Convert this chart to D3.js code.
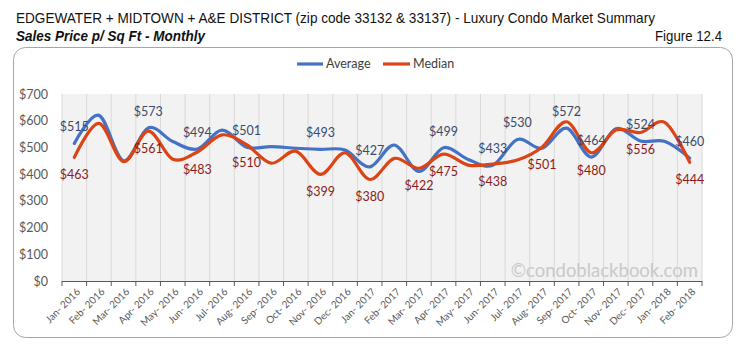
<!DOCTYPE html>
<html><head><meta charset="utf-8">
<script src="https://cdn.jsdelivr.net/npm/d3@7"></script>
<style>
body{margin:0;background:#fff;}
svg{display:block;}
</style></head>
<body>
<svg id="chart" width="740" height="345"></svg>
<script>
const months = ["Jan- 2016","Feb- 2016","Mar- 2016","Apr- 2016","May- 2016","Jun- 2016","Jul- 2016","Aug- 2016","Sep- 2016","Oct- 2016","Nov- 2016","Dec- 2016","Jan- 2017","Feb- 2017","Mar- 2017","Apr- 2017","May- 2017","Jun- 2017","Jul- 2017","Aug- 2017","Sep- 2017","Oct- 2017","Nov- 2017","Dec- 2017","Jan- 2018","Feb- 2018"];
const average = [515,620,450,573,522,494,565,501,503,497,493,490,427,509,410,499,455,433,530,497,572,464,570,524,522,460];
const median  = [463,590,447,561,456,483,547,510,441,486,399,480,380,459,422,475,434,438,453,501,596,480,565,556,593,444];
const avgLabelIdx = [0,3,5,7,10,12,15,17,18,20,21,23,25];
const medLabelIdx = [0,3,5,7,10,12,14,15,17,19,21,23,25];
const yTicks = [0,100,200,300,400,500,600,700];
const colors = {Average:"#4472c4", Median:"#dc4415"};
const labelColors = {Average:"#3b4a6b", Median:"#8b1c1c"};

const svg = d3.select("#chart");
const font = "Lato, 'Open Sans', sans-serif";
const tfont = "'Liberation Sans', Arial, sans-serif";

// Frame
svg.append("rect").attr("x",13.5).attr("y",47.5).attr("width",719).attr("height",290)
  .attr("rx",12).attr("fill","#fff").attr("stroke","#a6a6a6").attr("stroke-width",1);

// Titles
svg.append("text").attr("x",16).attr("y",23).text("EDGEWATER + MIDTOWN + A&E DISTRICT (zip code 33132 & 33137) - Luxury Condo Market Summary")
  .attr("font-family",tfont).attr("font-size",15).attr("fill","#111")
  .attr("textLength",639).attr("lengthAdjust","spacingAndGlyphs");
svg.append("text").attr("x",16).attr("y",41).text("Sales Price  p/ Sq Ft - Monthly")
  .attr("font-family",tfont).attr("font-size",14).attr("font-style","italic").attr("font-weight","bold").attr("fill","#111")
  .attr("textLength",189).attr("lengthAdjust","spacingAndGlyphs");
svg.append("text").attr("x",655).attr("y",41).text("Figure 12.4")
  .attr("font-family",tfont).attr("font-size",14).attr("fill","#111")
  .attr("textLength",67).attr("lengthAdjust","spacingAndGlyphs");

const x = d3.scaleBand().domain(months).range([62,702]).paddingInner(0).paddingOuter(0);
const y = d3.scaleLinear().domain([0,700]).range([281,94]);
const cx = m => x(m) + x.bandwidth()/2;

// plot background
svg.append("rect").attr("x",x.range()[0]).attr("y",y(700)).attr("width",x.range()[1]-x.range()[0]).attr("height",y(0)-y(700)).attr("fill","#f2f2f2");

// vertical gridlines at band boundaries
const bounds = months.map(m => x(m)).concat([x.range()[1]]);
svg.append("g").selectAll("line").data(bounds).join("line")
  .attr("x1",d=>d).attr("x2",d=>d).attr("y1",y(700)).attr("y2",y(0))
  .attr("stroke","#d9d9d9").attr("stroke-width",1);

// watermark
svg.append("text").attr("x",698).attr("y",277).attr("text-anchor","end").text("©condoblackbook.com")
  .attr("font-family",font).attr("font-size",18.5).attr("fill","#c9c9c9");

// Y axis labels
const yAxis = d3.axisLeft(y).tickValues(yTicks).tickFormat(d=>"$"+d).tickSize(0).tickPadding(14);
const yg = svg.append("g").attr("transform","translate(62,0)").call(yAxis);
yg.select(".domain").remove();
yg.selectAll("text").attr("font-family",font).attr("font-size",12.5).attr("fill","#595959");

// X axis line & ticks
svg.append("line").attr("x1",x.range()[0]).attr("x2",x.range()[1]).attr("y1",y(0)+0.5).attr("y2",y(0)+0.5).attr("stroke","#595959").attr("stroke-width",1.2);
svg.append("g").selectAll("line").data(bounds).join("line")
  .attr("x1",d=>d).attr("x2",d=>d).attr("y1",y(0)).attr("y2",y(0)+5)
  .attr("stroke","#595959").attr("stroke-width",1);
svg.append("g").selectAll("text").data(months).join("text")
  .attr("transform",d=>`translate(${cx(d)+4},${y(0)+9}) rotate(-45)`)
  .attr("text-anchor","end").attr("dy","0.35em")
  .attr("font-family",font).attr("font-size",10).attr("fill","#595959").text(d=>d);

// Lines
const line = d3.line().x((d,i)=>cx(months[i])).y(d=>y(d)).curve(d3.curveCardinal.tension(0));
const seriesData = {Average: average, Median: median};
["Average","Median"].forEach(name=>{
  svg.append("path").attr("d",line(seriesData[name])).attr("fill","none")
    .attr("stroke",colors[name]).attr("stroke-width",3.2).attr("stroke-linejoin","round").attr("stroke-linecap","round");
});

// Data labels
svg.append("g").selectAll("text").data(avgLabelIdx).join("text")
  .attr("x",i=>cx(months[i])).attr("y",i=>y(average[i])-12).attr("text-anchor","middle")
  .attr("font-family",font).attr("font-size",12.5).attr("fill",labelColors.Average).text(i=>"$"+average[i]);
svg.append("g").selectAll("text").data(medLabelIdx).join("text")
  .attr("x",i=>cx(months[i])).attr("y",i=>y(median[i])+22).attr("text-anchor","middle")
  .attr("font-family",font).attr("font-size",12.5).attr("fill",labelColors.Median).text(i=>"$"+median[i]);

// Legend
const legend = [{name:"Average",x1:297,x2:323,tx:326},{name:"Median",x1:383,x2:410,tx:413}];
legend.forEach(l=>{
  svg.append("line").attr("x1",l.x1).attr("x2",l.x2).attr("y1",64).attr("y2",64).attr("stroke",colors[l.name]).attr("stroke-width",3.2);
  svg.append("text").attr("x",l.tx).attr("y",64).attr("dy","0.35em").attr("font-family",font).attr("font-size",12.5).attr("fill","#404040").text(l.name);
});
</script>
</body></html>
